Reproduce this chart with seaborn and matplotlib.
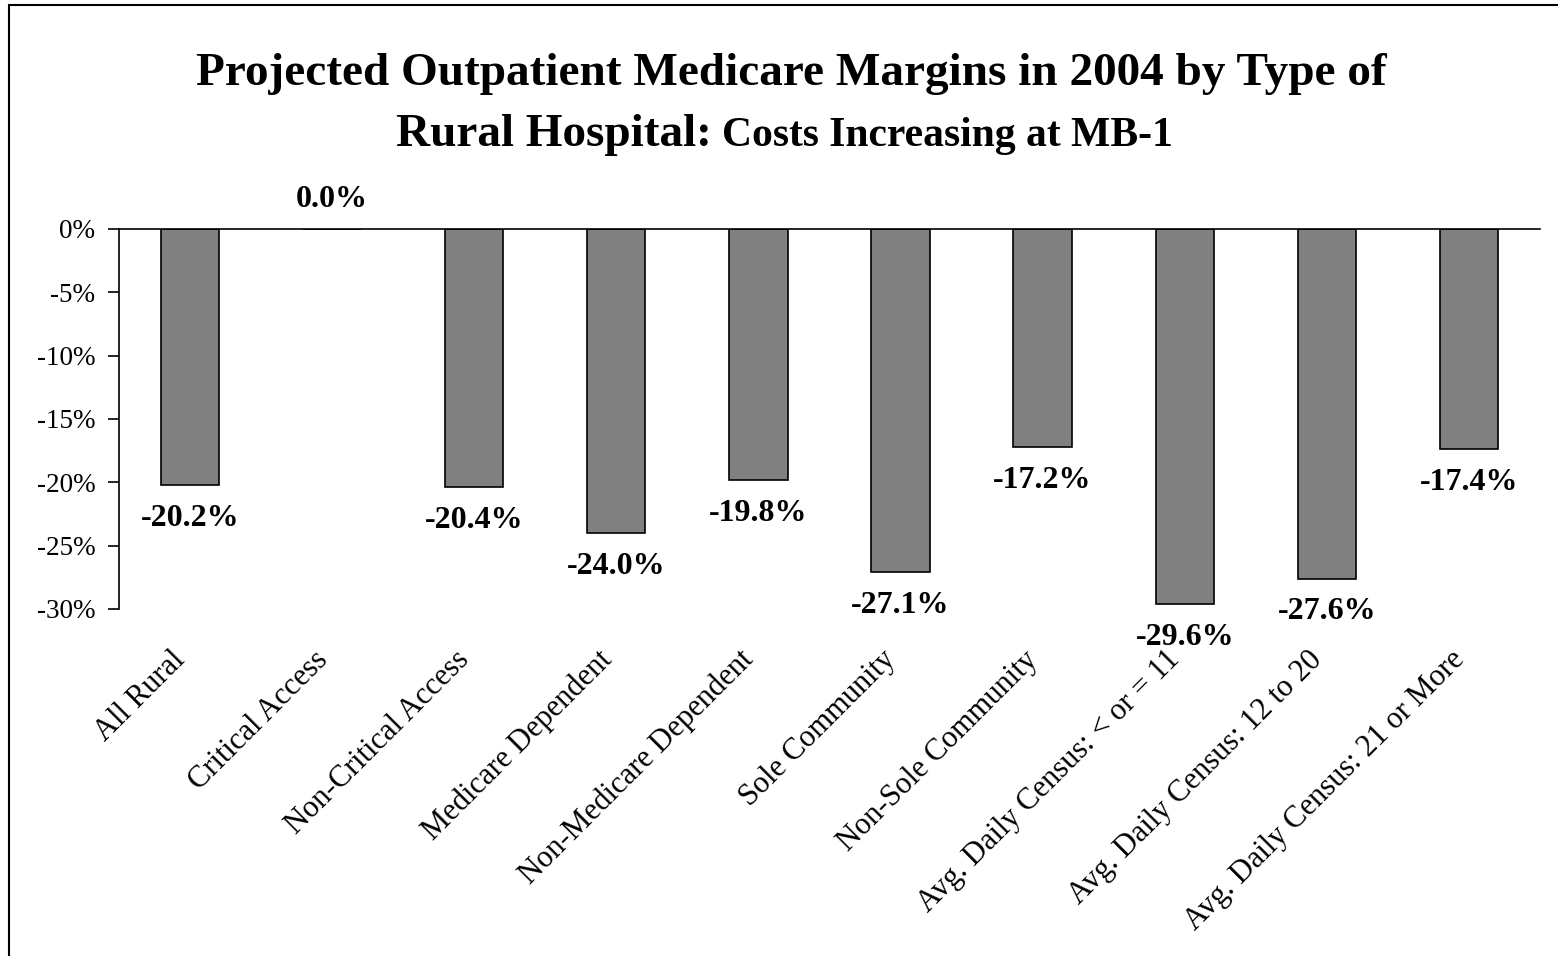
import pandas as pd
import matplotlib.pyplot as plt
import matplotlib.transforms as mtransforms
import seaborn as sns
from matplotlib.patches import Rectangle
from matplotlib.ticker import FuncFormatter

# chart data
categories = [
    "All Rural",
    "Critical Access",
    "Non-Critical Access",
    "Medicare Dependent",
    "Non-Medicare Dependent",
    "Sole Community",
    "Non-Sole Community",
    "Avg. Daily Census: < or = 11",
    "Avg. Daily Census: 12 to 20",
    "Avg. Daily Census: 21 or More",
]
margins = [-20.2, 0.0, -20.4, -24.0, -19.8, -27.1, -17.2, -29.6, -27.6, -17.4]
y_ticks = [0, -5, -10, -15, -20, -25, -30]

df = pd.DataFrame({"Hospital Type": categories, "Margin": margins})

sns.set_style("white")
plt.rcParams["font.family"] = ["Liberation Serif", "DejaVu Serif"]
plt.rcParams["text.color"] = "black"
plt.rcParams["xtick.color"] = "black"
plt.rcParams["ytick.color"] = "black"
plt.rcParams["axes.edgecolor"] = "black"

fig = plt.figure(figsize=(15.58, 9.56), dpi=100)
ax = fig.add_axes([0.0764, 0.363, 0.912, 0.3975])

sns.barplot(data=df, x="Hospital Type", y="Margin", color="#808080",
            edgecolor="black", linewidth=1.2, width=0.41, saturation=1,
            errorbar=None, ax=ax)

ax.set_ylim(-30, 0)
ax.set_xlim(-0.5, 9.5)
ax.set_yticks(y_ticks)
ax.yaxis.set_major_formatter(FuncFormatter(lambda v, p: f"{v:.0f}%"))
ax.set_xlabel("")
ax.set_ylabel("")

# axis styling: zero line on top, value axis on the left
for side in ["right", "bottom"]:
    ax.spines[side].set_visible(False)
ax.spines["top"].set_linewidth(1.2)
ax.spines["left"].set_linewidth(1.2)
ax.tick_params(axis="y", which="both", left=True, length=8, width=1.2,
               direction="out", labelsize=19.5, pad=9)
ax.tick_params(axis="x", which="both", bottom=False, labelsize=22, pad=30)
shift = mtransforms.ScaledTranslation(-9 / 100, 0, fig.dpi_scale_trans)
for lbl in ax.get_xticklabels():
    lbl.set_rotation(45)
    lbl.set_ha("right")
    lbl.set_va("center")
    lbl.set_rotation_mode("anchor")
    lbl.set_transform(lbl.get_transform() + shift)

# value labels
for i, v in enumerate(margins):
    off = 24 if v < 0 else 21
    ax.annotate(f"{v:.1f}%", xy=(i, v), xytext=(0, -off if v < 0 else off),
                textcoords="offset points", ha="center", va="center",
                fontsize=23, fontweight="bold")

# title, second line mixes two sizes
fig.text(0.508, 1 - 85 / 956, "Projected Outpatient Medicare Margins in 2004 by Type of",
         ha="center", va="baseline", fontsize=34, fontweight="bold")
fig.text(712 / 1558, 1 - 146 / 956, "Rural Hospital:",
         ha="right", va="baseline", fontsize=34, fontweight="bold")
fig.text(722 / 1558, 1 - 146 / 956, "Costs Increasing at MB-1",
         ha="left", va="baseline", fontsize=30, fontweight="bold")

# chart frame (left and top edges visible)
fig.patches.append(Rectangle((9 / 1558, -0.1), 1.2, 1 - 5 / 956 + 0.1,
                             transform=fig.transFigure, fill=False,
                             edgecolor="black", linewidth=1.5))

plt.savefig("out.png", dpi=100)
